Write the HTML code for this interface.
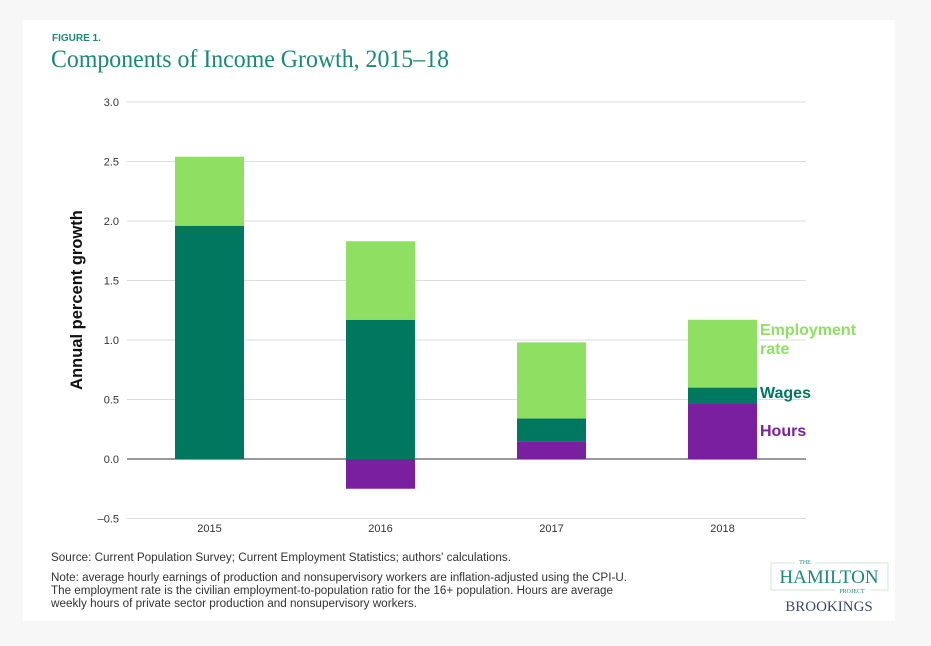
<!DOCTYPE html>
<html><head><meta charset="utf-8"><style>
body{margin:0;background:#f7f7f7;width:931px;height:646px;overflow:hidden;font-family:"Liberation Sans",sans-serif}
#card{position:absolute;left:23px;top:20px;width:872px;height:601px;background:#fff}
</style></head><body>
<div id="card"></div>
<svg width="931" height="646" style="position:absolute;left:0;top:0">
<text x="52" y="41" font-size="10" font-weight="bold" fill="#1a8a78">FIGURE 1.</text>
<text x="51" y="67" font-size="25" font-family="Liberation Serif, serif" fill="#1a8a78" textLength="398" lengthAdjust="spacingAndGlyphs">Components of Income Growth, 2015–18</text>
<g id="grid"></g><g id="bars"></g><g id="xl"></g>
<text transform="translate(82,300) rotate(-90)" text-anchor="middle" font-size="16.5" font-weight="bold" fill="#111">Annual percent growth</text>
<text x="760" y="335" font-size="16" font-weight="bold" fill="#8fdf63">Employment</text>
<text x="760" y="354" font-size="16" font-weight="bold" fill="#8fdf63">rate</text>
<text x="760" y="398" font-size="16" font-weight="bold" fill="#00775f">Wages</text>
<text x="760" y="436" font-size="16" font-weight="bold" fill="#7a1fa0">Hours</text>
<text x="51" y="561" font-size="11.5" fill="#333" textLength="460" lengthAdjust="spacingAndGlyphs">Source: Current Population Survey; Current Employment Statistics; authors' calculations.</text>
<g font-size="11.5" fill="#333">
<text x="51" y="581" textLength="576" lengthAdjust="spacingAndGlyphs">Note: average hourly earnings of production and nonsupervisory workers are inflation-adjusted using the CPI-U.</text>
<text x="51" y="594" textLength="562" lengthAdjust="spacingAndGlyphs">The employment rate is the civilian employment-to-population ratio for the 16+ population. Hours are average</text>
<text x="51" y="607" textLength="366" lengthAdjust="spacingAndGlyphs">weekly hours of private sector production and nonsupervisory workers.</text></g>
<g>
<rect x="771" y="563" width="117" height="27" fill="none" stroke="#cfe8d8"/>
<rect x="795" y="557" width="20" height="8" fill="#fff"/>
<text x="805" y="564" font-size="6" text-anchor="middle" fill="#1a8a78" font-family="Liberation Serif,serif">THE</text>
<text x="829" y="583" font-size="19" text-anchor="middle" fill="#1a8a78" font-family="Liberation Serif,serif">HAMILTON</text>
<rect x="835" y="586" width="35" height="8" fill="#fff"/>
<text x="852" y="593" font-size="6" text-anchor="middle" fill="#1a8a78" font-family="Liberation Serif,serif">PROJECT</text>
<text x="829" y="611" font-size="15" text-anchor="middle" fill="#3a4a6a" font-family="Liberation Serif,serif">BROOKINGS</text></g>
</svg>
<script>
const years=["2015","2016","2017","2018"];
const hours=[0,-0.25,0.15,0.47];
const wages=[1.96,1.17,0.19,0.13];
const employment=[0.58,0.66,0.64,0.57];
const ticks=[3.0,2.5,2.0,1.5,1.0,0.5,0.0,-0.5];
const NS="http://www.w3.org/2000/svg";
const y=v=>459-v*119;
const x=i=>209.5+i*171;
function mk(t,a,p){const e=document.createElementNS(NS,t);for(const k in a)e.setAttribute(k,a[k]);p.appendChild(e);return e;}
const g=document.getElementById('grid');
ticks.forEach(t=>{
 const l=mk('line',{x1:127,x2:806,y1:y(t),y2:y(t),stroke:t===0?'#333':'#ddd','stroke-width':1},g);
 
 
 const tx=mk('text',{x:119,y:y(t)+4,'text-anchor':'end','font-size':11,fill:'#333'},g);
 tx.textContent=(t<0?'–'+Math.abs(t).toFixed(1):t.toFixed(1));
 
 
});
const b=document.getElementById('bars'),xl=document.getElementById('xl');
years.forEach((yr,i)=>{
 const w=69,x0=x(i)-w/2;
 let base=0;
 const h=hours[i];
 const r1=mk('rect',{x:x0,width:w,y:y(Math.max(h,0)),height:Math.abs(h)*119,fill:'#7a1fa0'},b);
 
 
 base=Math.max(h,0);
 const r2=mk('rect',{x:x0,width:w,y:y(base+wages[i]),height:wages[i]*119,fill:'#00775f'},b);
 
 
 base+=wages[i];
 const r3=mk('rect',{x:x0,width:w,y:y(base+employment[i]),height:employment[i]*119,fill:'#8fdf63'},b);
 
 
 const t=mk('text',{x:x(i),y:532,'text-anchor':'middle','font-size':11,fill:'#333'},xl);
 t.textContent=yr;
 
 
});
</script>
</body></html>
